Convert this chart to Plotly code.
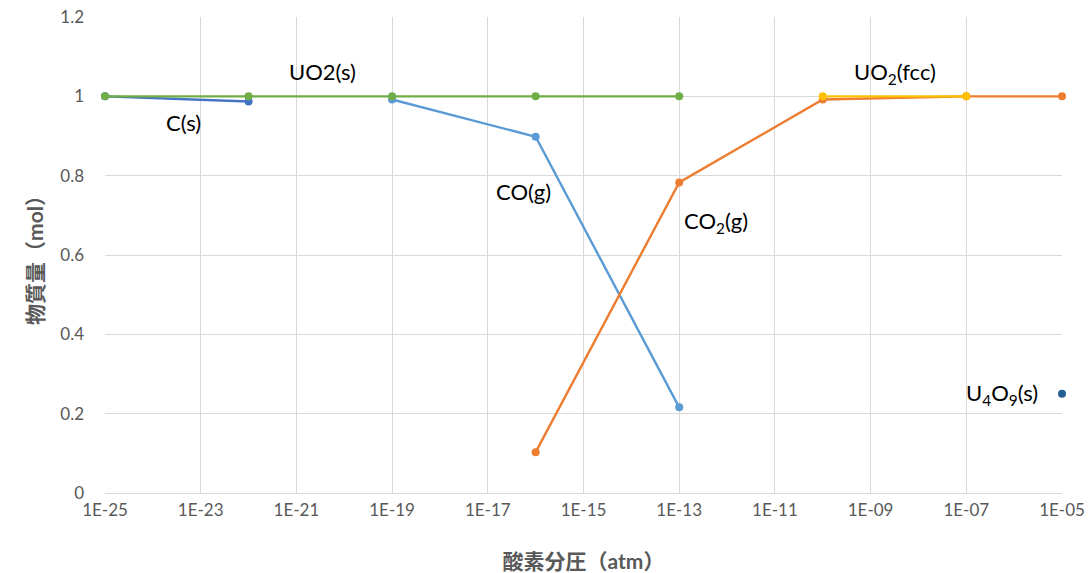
import plotly.graph_objects as go

# Data (oxygen partial pressure in atm, amount in mol)
c_s_x = [1e-25, 1e-22]
c_s_y = [1.0, 0.987]

uo2_s_x = [1e-25, 1e-22, 1e-19, 1e-16, 1e-13]
uo2_s_y = [1.0, 1.0, 1.0, 1.0, 1.0]

co_g_x = [1e-19, 1e-16, 1e-13]
co_g_y = [0.992, 0.898, 0.216]

co2_g_x = [1e-16, 1e-13, 1e-10, 1e-07, 1e-05]
co2_g_y = [0.103, 0.783, 0.992, 1.0, 1.0]

uo2_fcc_x = [1e-10, 1e-07]
uo2_fcc_y = [1.0, 1.0]

u4o9_x = [1e-05]
u4o9_y = [0.25]

x_tick_vals = [1e-25, 1e-23, 1e-21, 1e-19, 1e-17, 1e-15, 1e-13, 1e-11, 1e-09, 1e-07, 1e-05]
x_tick_text = ["1E-25", "1E-23", "1E-21", "1E-19", "1E-17", "1E-15", "1E-13", "1E-11", "1E-09", "1E-07", "1E-05"]
y_tick_vals = [0, 0.2, 0.4, 0.6, 0.8, 1.0, 1.2]
y_tick_text = ["0", "0.2", "0.4", "0.6", "0.8", "1", "1.2"]

labels = ["UO2(s)", "C(s)", "CO(g)", "CO<sub>2</sub>(g)", "UO<sub>2</sub>(fcc)", "U<sub>4</sub>O<sub>9</sub>(s)"]
label_x = [-20.46, -23.37, -16.26, -12.23, -8.49, -5.47]
label_y = [1.063, 0.934, 0.761, 0.683, 1.058, 0.249]
label_anchor = ["center", "center", "center", "center", "center", "right"]

font_main = "Lato, 'Noto Sans CJK JP', sans-serif"

fig = go.Figure()

def add(x, y, color, name):
    fig.add_trace(go.Scatter(x=x, y=y, mode="lines+markers", name=name,
                             line=dict(color=color, width=2.4),
                             marker=dict(color=color, size=8),
                             cliponaxis=False))

add(c_s_x, c_s_y, "#4472C4", "C(s)")
add(co_g_x, co_g_y, "#5B9BD5", "CO(g)")
add(co2_g_x, co2_g_y, "#ED7D31", "CO2(g)")
add(uo2_s_x, uo2_s_y, "#70AD47", "UO2(s)")
add(uo2_fcc_x, uo2_fcc_y, "#FFC000", "UO2(fcc)")
add(u4o9_x, u4o9_y, "#255E91", "U4O9(s)")

for t, ax, ay, anc in zip(labels, label_x, label_y, label_anchor):
    fig.add_annotation(x=ax, y=ay, text=t, showarrow=False, xanchor=anc,
                       font=dict(family=font_main, size=22, color="#000000"))

fig.update_layout(
    width=1091, height=573,
    margin=dict(l=105, r=29, t=17, b=80),
    paper_bgcolor="white", plot_bgcolor="white",
    showlegend=False,
    font=dict(family=font_main),
    xaxis=dict(type="log", range=[-25, -5], tickvals=x_tick_vals, ticktext=x_tick_text,
               showgrid=True, gridcolor="#D9D9D9", gridwidth=1,
               showline=True, linecolor="#D9D9D9", linewidth=1,
               zeroline=False, ticks="", ticklabelstandoff=2, automargin=False,
               tickfont=dict(family=font_main, size=17, color="#595959"),
               title=dict(text="<b>酸素分圧（atm）</b>", standoff=36,
                          font=dict(family=font_main, size=21, color="#595959")),
               mirror=False),
    yaxis=dict(range=[0, 1.2], tickvals=y_tick_vals, ticktext=y_tick_text,
               showgrid=True, gridcolor="#D9D9D9", gridwidth=1,
               showline=False, zeroline=False, ticks="", ticklabelstandoff=20,
               automargin=False,
               tickfont=dict(family=font_main, size=17, color="#595959"),
               title=dict(text="<b>物質量（mol）</b>", standoff=10,
                          font=dict(family=font_main, size=21, color="#595959"))),
)

fig.write_html("out.html", config={"displayModeBar": False})
with open("out.html", "r", encoding="utf-8") as f:
    html = f.read()
html = html.replace("<body>", '<body style="margin:0;padding:0;overflow:hidden">', 1)
with open("out.html", "w", encoding="utf-8") as f:
    f.write(html)
